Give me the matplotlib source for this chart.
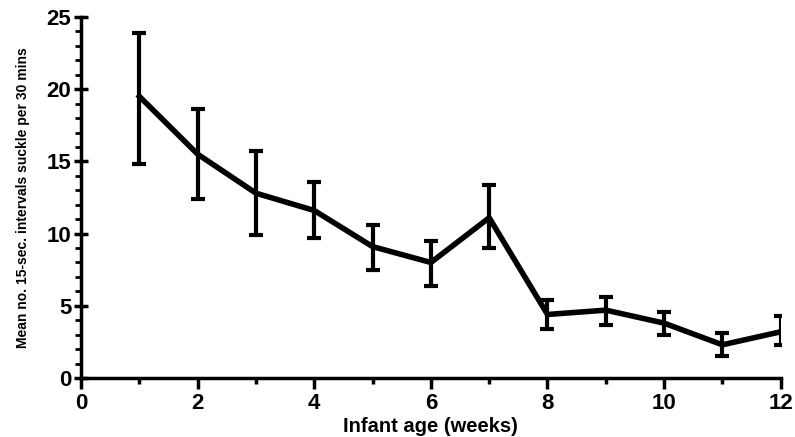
import matplotlib.pyplot as plt
from matplotlib.ticker import MultipleLocator

# suckling per age week: mean and error bar ends
weeks = [1, 2, 3, 4, 5, 6, 7, 8, 9, 10, 11, 12]
means = [19.5, 15.5, 12.8, 11.6, 9.1, 8.0, 11.1, 4.4, 4.7, 3.8, 2.3, 3.2]
upper = [23.9, 18.6, 15.7, 13.6, 10.6, 9.5, 13.4, 5.4, 5.6, 4.6, 3.1, 4.3]
lower = [14.8, 12.4, 9.9, 9.7, 7.5, 6.4, 9.0, 3.4, 3.7, 3.0, 1.5, 2.3]

err_lo = [m - l for m, l in zip(means, lower)]
err_hi = [u - m for m, u in zip(means, upper)]

plt.rcParams['font.family'] = ['Liberation Sans', 'DejaVu Sans']
plt.rcParams['font.weight'] = 'bold'

fig = plt.figure(figsize=(7.95, 4.37), dpi=100)
ax = fig.add_axes([0.102, 0.135, 0.880, 0.826])

ax.errorbar(weeks, means, yerr=[err_lo, err_hi], color='black', lw=4,
            elinewidth=3, capsize=5, capthick=3, solid_joinstyle='round')

ax.set_xlim(0, 12)
ax.set_ylim(0, 25)
ax.xaxis.set_major_locator(MultipleLocator(2))
ax.xaxis.set_minor_locator(MultipleLocator(1))
ax.yaxis.set_major_locator(MultipleLocator(5))
ax.yaxis.set_minor_locator(MultipleLocator(1))

for side in ['top', 'right']:
    ax.spines[side].set_visible(False)
for side in ['left', 'bottom']:
    ax.spines[side].set_linewidth(2.5)

ax.tick_params(axis='y', which='major', direction='inout', length=10, width=2.5,
               labelsize=16, pad=2)
ax.tick_params(axis='y', which='minor', direction='out', length=4, width=2)
ax.tick_params(axis='x', which='major', direction='out', length=8, width=2.5,
               labelsize=16, pad=3)
ax.tick_params(axis='x', which='minor', direction='out', length=4, width=2.5)
for lab in ax.get_xticklabels() + ax.get_yticklabels():
    lab.set_fontweight('bold')

ax.set_xlabel('Infant age (weeks)', fontsize=14.5, fontweight='bold', labelpad=2)
ax.set_ylabel('Mean no. 15-sec. intervals suckle per 30 mins', fontsize=10,
              fontweight='bold', labelpad=12)

fig.savefig('out.png', dpi=100)
